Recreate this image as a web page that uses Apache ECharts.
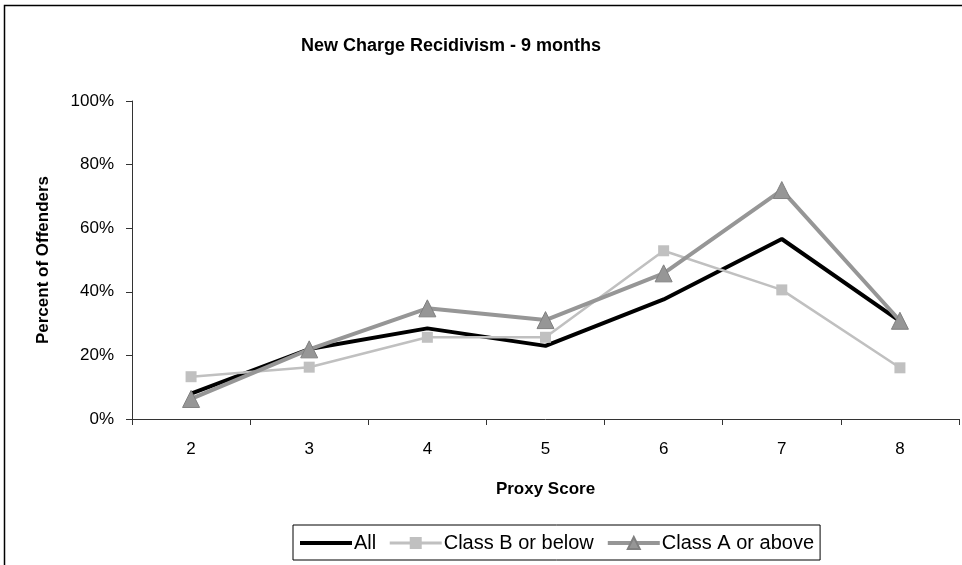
<!DOCTYPE html>
<html>
<head>
<meta charset="utf-8">
<script src="https://cdn.jsdelivr.net/npm/echarts@6/dist/echarts.min.js"></script>
<style>
  html, body { margin: 0; padding: 0; background: #fff; }
  #chart { width: 962px; height: 565px; }
</style>
</head>
<body>
<div id="chart"></div>
<script>
  // proxy scores on the x axis
  const proxyScores = ['2', '3', '4', '5', '6', '7', '8'];

  // percent of offenders per group
  const allValues = [8, 22, 28.5, 23, 37.6, 56.6, 30.8];
  const classBValues = [13.3, 16.3, 25.7, 25.7, 52.9, 40.6, 16.1];
  const classAValues = [6.3, 21.9, 34.8, 31.1, 45.8, 72, 30.9];

  const yTicks = [0, 20, 40, 60, 80, 100];

  const fontFamily = '"Liberation Sans", Arial, sans-serif';

  const chart = echarts.init(document.getElementById('chart'));

  chart.setOption({
    backgroundColor: '#fff',
    animation: false,
    textStyle: { fontFamily: fontFamily },
    title: {
      text: 'New Charge Recidivism - 9 months',
      left: 296,
      top: 32,
      textStyle: { fontSize: 18, fontWeight: 'bold', color: '#000', fontFamily: fontFamily }
    },
    graphic: [
      {
        type: 'rect',
        shape: { x: 4.5, y: 5.5, width: 1000, height: 1000 },
        style: { fill: 'none', stroke: '#000', lineWidth: 1.5 },
        silent: true
      }
    ],
    grid: {
      left: 132,
      right: 3,
      top: 101,
      bottom: 146
    },
    legend: {
      left: 293,
      top: 525,
      padding: [8, 6, 7, 5],
      itemGap: 12,
      itemWidth: 52,
      itemHeight: 15,
      borderColor: '#000',
      borderWidth: 1,
      textStyle: { fontSize: 20, color: '#000', fontFamily: fontFamily, padding: [0, 0, 0, -3] },
      data: [
        { name: 'All', itemStyle: { opacity: 0 }, lineStyle: { width: 4, color: '#000' } },
        { name: 'Class B or below', lineStyle: { width: 3, color: '#c0c0c0' } },
        { name: 'Class A or above', lineStyle: { width: 4, color: '#969696' } }
      ]
    },
    xAxis: {
      type: 'category',
      data: proxyScores,
      boundaryGap: true,
      name: 'Proxy Score',
      nameLocation: 'middle',
      nameGap: 62,
      nameTextStyle: { fontSize: 17, fontWeight: 'bold', color: '#000' },
      axisLine: { lineStyle: { color: '#333', width: 1 } },
      axisTick: { show: true, length: 6, alignWithLabel: false, lineStyle: { color: '#333' } },
      axisLabel: { fontSize: 17, color: '#000', margin: 22 },
      splitLine: { show: false }
    },
    yAxis: {
      type: 'value',
      min: yTicks[0],
      max: yTicks[yTicks.length - 1],
      interval: 20,
      name: 'Percent of Offenders',
      nameLocation: 'middle',
      nameGap: 80,
      nameRotate: 90,
      nameTextStyle: { fontSize: 17, fontWeight: 'bold', color: '#000' },
      axisLine: { show: true, lineStyle: { color: '#333', width: 1 } },
      axisTick: { show: true, length: 6, lineStyle: { color: '#333' } },
      axisLabel: { fontSize: 17, color: '#000', margin: 18, formatter: '{value}%' },
      splitLine: { show: false }
    },
    series: [
      {
        name: 'All',
        type: 'line',
        data: allValues,
        symbol: 'none',
        lineStyle: { color: '#000', width: 4 },
        itemStyle: { color: '#000' }
      },
      {
        name: 'Class B or below',
        type: 'line',
        data: classBValues,
        symbol: 'rect',
        symbolSize: 11,
        lineStyle: { color: '#c0c0c0', width: 2.5 },
        itemStyle: { color: '#c0c0c0' }
      },
      {
        name: 'Class A or above',
        type: 'line',
        data: classAValues,
        symbol: 'triangle',
        symbolSize: 17,
        lineStyle: { color: '#969696', width: 4 },
        itemStyle: { color: '#969696', borderColor: '#808080', borderWidth: 1 }
      }
    ]
  });

  window.addEventListener('resize', () => chart.resize());
</script>
</body>
</html>
